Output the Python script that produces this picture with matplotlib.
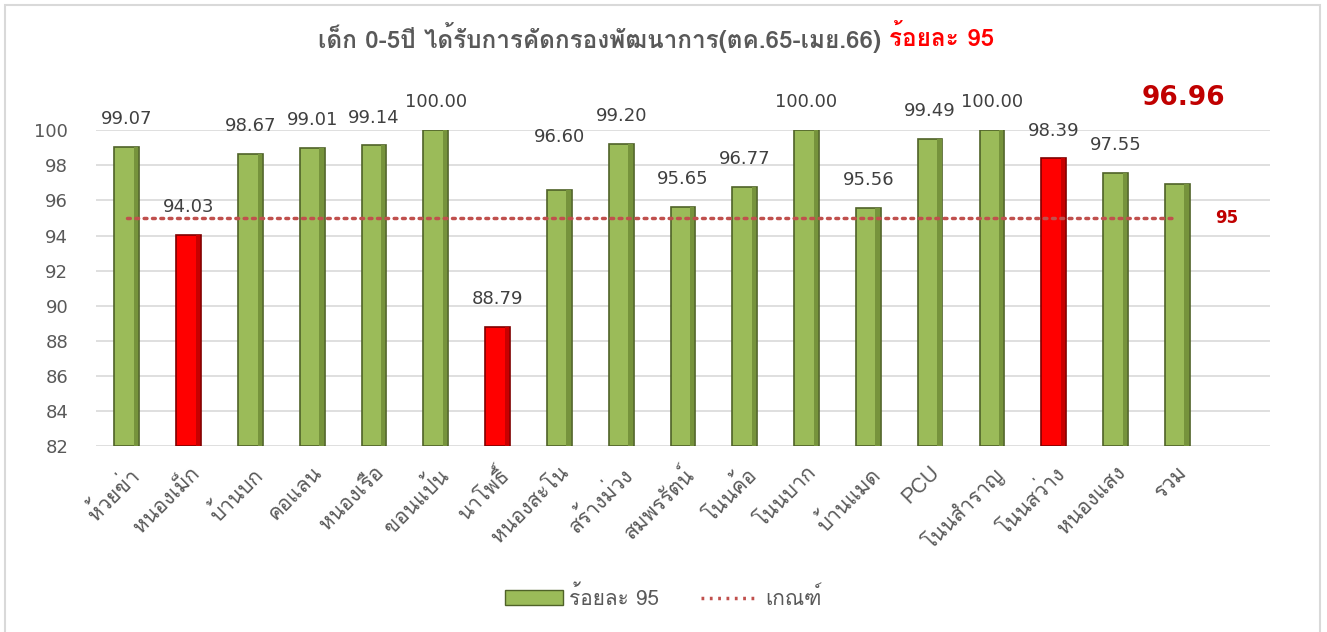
import matplotlib
matplotlib.use("Agg")
import matplotlib.pyplot as plt
from matplotlib import font_manager
from matplotlib.ft2font import FT2Font
from matplotlib.patches import Patch, Rectangle
from matplotlib.lines import Line2D

# ---- หา font ที่มีอักษรไทย ----
def find_thai_family():
    for f in font_manager.fontManager.ttflist:
        try:
            if 0x0E01 in FT2Font(f.fname).get_charmap():
                return f.name
        except Exception:
            pass
    return "DejaVu Sans"

thai = find_thai_family()
plt.rcParams['font.family'] = [thai, 'DejaVu Sans']
NUM_FONT = ['DejaVu Sans']

# ---- ข้อมูล ----
units = ['ห้วยข่า', 'หนองเม็ก', 'บ้านบก', 'คอแลน', 'หนองเรือ', 'ขอนแป้น',
         'นาโพธิ์', 'หนองสะโน', 'สร้างม่วง', 'สมพรรัตน์', 'โนนค้อ', 'โนนบาก',
         'บ้านแมด', 'PCU', 'โนนสำราญ', 'โนนสว่าง', 'หนองแสง', 'รวม']
percent = [99.07, 94.03, 98.67, 99.01, 99.14, 100.00, 88.79, 96.60, 99.20,
           95.65, 96.77, 100.00, 95.56, 99.49, 100.00, 98.39, 97.55, 96.96]
highlight = ['หนองเม็ก', 'นาโพธิ์', 'โนนสว่าง']
target = 95
yticks = list(range(82, 101, 2))

title_main = 'เด็ก 0-5ปี ได้รับการคัดกรองพัฒนาการ(ตค.65-เมย.66) '
title_red = 'ร้อยละ 95'

GREEN, GREEN_EDGE, GREEN_DARK = '#9BBB59', '#4F6228', '#76933C'
RED, RED_EDGE, RED_DARK = '#FF0000', '#7F0000', '#C80000'
GRAY = '#595959'
BASE = 82

fig = plt.figure(figsize=(13.27, 6.32), dpi=100)
ax = fig.add_axes([0.0723, 0.294, 0.8847, 0.500])

x = list(range(len(units)))
hi = [u in highlight for u in units]
face = [RED if h else GREEN for h in hi]
edge = [RED_EDGE if h else GREEN_EDGE for h in hi]
dark = [RED_DARK if h else GREEN_DARK for h in hi]
heights = [p - BASE for p in percent]

ax.bar(x, heights, bottom=BASE, width=0.4, color=face, edgecolor=edge,
       linewidth=1.2, zorder=3)
# เงาด้านขวาให้ดูเป็นแท่งนูน
ax.bar([i + 0.15 for i in x], heights, bottom=BASE, width=0.07, color=dark,
       linewidth=0, zorder=3.5)

# ---- เส้นเกณฑ์ ----
ax.plot([x[0], x[-1]], [target, target], linestyle=(0, (0.8, 1.6)),
        color='#C0504D', linewidth=2.5, zorder=4, dash_capstyle='round')
ax.text(x[-1] + 0.8, target, str(target), color='#C00000', fontsize=12,
        fontweight='bold', ha='center', va='center', family=NUM_FONT)

# ---- ป้ายค่า ----
for i, p in enumerate(percent[:-1]):
    off = 38 if i == 7 else 20
    ax.annotate(f'{p:.2f}', (i, p), xytext=(0, off), textcoords='offset points',
                ha='center', va='center', fontsize=13, color='#404040',
                family=NUM_FONT)
ax.text(x[-1] + 0.1, 101.85, f'{percent[-1]:.2f}', color='#C00000',
        fontsize=19, fontweight='bold', ha='center', va='center',
        family=NUM_FONT)

# ---- แกน ----
ax.set_xlim(-0.5, len(units) + 0.5)
ax.set_ylim(BASE, 100)
ax.set_yticks(yticks)
ax.set_yticklabels([str(v) for v in yticks], family=NUM_FONT)
ax.tick_params(axis='y', length=0, labelsize=13, labelcolor=GRAY, pad=20)
ax.set_xticks(x)
ax.set_xticklabels(units, rotation=45, ha='right', rotation_mode='anchor',
                   fontsize=15, color=GRAY)
ax.tick_params(axis='x', length=0, pad=12)
ax.grid(axis='y', color='#D9D9D9', linewidth=1.2, zorder=0)
for s in ax.spines.values():
    s.set_visible(False)

# ---- ชื่อกราฟ (จัดกึ่งกลางทั้งสองส่วน) ----
t1 = fig.text(0, 0.94, title_main, fontsize=17.5, fontweight='bold',
              color=GRAY, ha='left', va='center')
t2 = fig.text(0, 0.94, title_red, fontsize=17.5, fontweight='bold',
              color='red', ha='left', va='center')
fig.canvas.draw()
W = fig.bbox.width
w1 = t1.get_window_extent().width
w2 = t2.get_window_extent().width
left = 656 - (w1 + w2) / 2
t1.set_x(left / W)
t2.set_x((left + w1) / W)

# ---- legend ----
handles = [Patch(facecolor=GREEN, edgecolor=GREEN_EDGE, label='ร้อยละ 95'),
           Line2D([], [], linestyle=(0, (0.8, 1.6)), color='#C0504D',
                  linewidth=2.5, label='เกณฑ์')]
fig.legend(handles=handles, loc='center', bbox_to_anchor=(0.5, 0.055),
           ncol=2, frameon=False, fontsize=15, labelcolor=GRAY,
           handlelength=2.8, handletextpad=0.3, columnspacing=2.0)

# กรอบรอบกราฟ
fig.patches.append(Rectangle((5 / 1327, -0.05), 1315 / 1327, 1.0 - 5 / 632 + 0.05,
                             transform=fig.transFigure, fill=False,
                             edgecolor='#D9D9D9', linewidth=1.5))

fig.savefig('out.png', dpi=100)
